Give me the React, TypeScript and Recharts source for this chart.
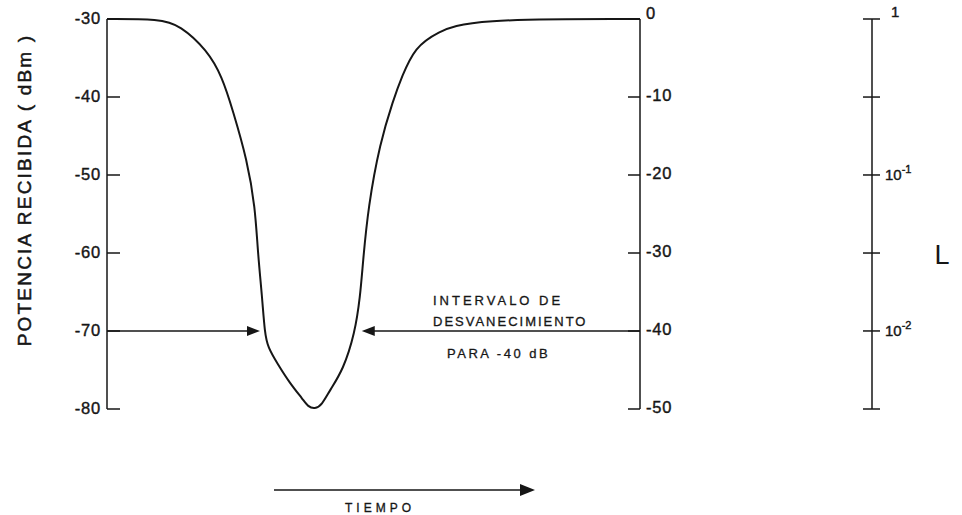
import React from 'react'
import { LineChart, Line, XAxis, YAxis, ReferenceLine } from 'recharts'

// curva de desvanecimiento, tiempo en unidades arbitrarias (0-100)
const tiempo = [0, 9.9, 13.7, 18.8, 21.6, 23.6, 26.3, 27.8, 28.3, 29.1, 29.6, 30.2, 31.9, 34.3, 36.8, 37.7, 39.0, 40.3, 41.8, 44.3, 46.5, 47.5, 48.0, 49.0, 51.2, 53.7, 55.3, 57.8, 61.9, 68.1, 100]
const potencia = [-30, -30, -30.8, -34.0, -37.4, -41.7, -48.1, -54.1, -60, -65.6, -70.3, -72.1, -74.1, -76.7, -78.8, -79.7, -80, -79.5, -77.6, -75.0, -70.3, -65.6, -61.3, -54.1, -45.9, -40.4, -37.4, -33.6, -31.7, -30, -30]

const leftTicks = [-30, -40, -50, -60, -70, -80]
const rightTicks = [0, -10, -20, -30, -40, -50]
const lTicks = [1, 0.316, 0.1, 0.0316, 0.01, 0.00316]
const lLabels: Record<string, [string, string]> = {
  '1': ['1', ''],
  '0.1': ['10', '-1'],
  '0.01': ['10', '-2']
}

// intervalo de desvanecimiento: flechas (tiempo inicio, tiempo fin, nivel)
const arrowLeft = { from: 0, to: 28.7, level: -70 }
const arrowRight = { from: 100, to: 47.8, level: -40 }

const rows = tiempo.map((t, i) => ({ t, p: potencia[i] }))

const INK = '#161616'
const FONT = '"Liberation Sans", Arial, Helvetica, sans-serif'

const LeftTick = ({ x, y, payload }: any) => (
  <g>
    <line x1={x} x2={x + 13} y1={y} y2={y} stroke={INK} strokeWidth={1.5} />
    <text x={x - 6} y={y} dy={5} textAnchor="end" fill={INK} stroke={INK} strokeWidth={0.4} fontSize={16.5} fontFamily={FONT} letterSpacing={0.8}>
      {payload.value}
    </text>
  </g>
)

const RightTick = ({ x, y, payload }: any) => (
  <g>
    <line x1={x - 12} x2={x} y1={y} y2={y} stroke={INK} strokeWidth={1.5} />
    <text x={x + 6} y={y} dy={payload.value === 0 ? 0 : 4} textAnchor="start" fill={INK} stroke={INK} strokeWidth={0.4} fontSize={16.5} fontFamily={FONT} letterSpacing={0.8}>
      {payload.value}
    </text>
  </g>
)

const LTick = ({ x, y, payload }: any) => {
  const lab = lLabels[String(payload.value)]
  return (
    <g>
      <line x1={x - 9} x2={x + 8} y1={y} y2={y} stroke={INK} strokeWidth={1.5} />
      {lab && lab[1] === '' && (
        <text x={x + 19} y={y - 2} textAnchor="start" fill={INK} stroke={INK} strokeWidth={0.4} fontSize={15} fontFamily={FONT}>{lab[0]}</text>
      )}
      {lab && lab[1] !== '' && (
        <text x={x + 13} y={y} dy={5} textAnchor="start" fill={INK} stroke={INK} strokeWidth={0.4} fontSize={15} fontFamily={FONT}>
          <tspan>{lab[0]}</tspan>
          <tspan dy={-7} fontSize={11}>{lab[1]}</tspan>
        </text>
      )}
    </g>
  )
}

const ArrowLine = (props: any) => {
  const { x1, y1, x2, y2 } = props
  const dir = x2 > x1 ? 1 : -1
  return (
    <g>
      <line x1={x1} y1={y1} x2={x2 - dir * 10} y2={y2} stroke={INK} strokeWidth={1.3} />
      <polygon points={`${x2},${y2} ${x2 - dir * 13},${y2 - 5} ${x2 - dir * 13},${y2 + 5}`} fill={INK} />
    </g>
  )
}

export default function App() {
  return (
    <div style={{ position: 'absolute', left: 0, top: 0, width: 962, height: 515, background: '#fff' }}>
      <LineChart width={962} height={515} data={rows} margin={{ top: 19, right: 0, bottom: 106, left: 0 }}>
        <XAxis type="number" dataKey="t" domain={[0, 100]} hide />
        <YAxis
          yAxisId="a_dbm"
          width={107}
          type="number"
          domain={[-80, -30]}
          ticks={leftTicks}
          interval={0}
          tickSize={0}
          tickMargin={0}
          tickLine={false}
          axisLine={{ stroke: INK, strokeWidth: 1.5 }}
          tick={<LeftTick />}
        />
        <YAxis
          yAxisId="b_db"
          orientation="right"
          width={232}
          type="number"
          domain={[-50, 0]}
          allowDataOverflow
          ticks={rightTicks}
          interval={0}
          tickSize={0}
          tickMargin={0}
          tickLine={false}
          axisLine={{ stroke: INK, strokeWidth: 1.5 }}
          tick={<RightTick />}
        />
        <YAxis
          yAxisId="c_ratio"
          orientation="right"
          width={90}
          type="number"
          scale="log"
          domain={[0.00316, 1]}
          allowDataOverflow
          ticks={lTicks}
          interval={0}
          tickSize={0}
          tickMargin={0}
          tickLine={false}
          axisLine={{ stroke: INK, strokeWidth: 1.5 }}
          tick={<LTick />}
        />
        <Line
          yAxisId="a_dbm"
          type="basis"
          dataKey="p"
          stroke={INK}
          strokeWidth={2}
          dot={false}
          isAnimationActive={false}
        />
        <ReferenceLine
          yAxisId="a_dbm"
          segment={[{ x: arrowLeft.from, y: arrowLeft.level }, { x: arrowLeft.to, y: arrowLeft.level }]}
          shape={(p: any) => <ArrowLine {...p} />}
        />
        <ReferenceLine
          yAxisId="b_db"
          segment={[{ x: arrowRight.from, y: arrowRight.level }, { x: arrowRight.to, y: arrowRight.level }]}
          shape={(p: any) => <ArrowLine {...p} />}
        />

        <text transform="translate(31,190) rotate(-90)" textAnchor="middle" fill={INK} stroke={INK} strokeWidth={0.5} fontSize={19} fontFamily={FONT} letterSpacing={2.2}>
          POTENCIA RECIBIDA ( dBm )
        </text>
        <g fill={INK} stroke={INK} strokeWidth={0.3} fontSize={13} fontFamily={FONT}>
          <text x={433} y={305} letterSpacing={3}>INTERVALO DE</text>
          <text x={433} y={326} letterSpacing={2}>DESVANECIMIENTO</text>
          <text x={447} y={358} letterSpacing={2.5}>PARA -40 dB</text>
        </g>
        <line x1={274} y1={490} x2={522} y2={490} stroke={INK} strokeWidth={1.3} />
        <polygon points="535,490 520,484 520,496" fill={INK} />
        <text x={380} y={512} textAnchor="middle" fill={INK} stroke={INK} strokeWidth={0.3} fontSize={12} fontFamily={FONT} letterSpacing={4}>TIEMPO</text>
        <text x={942} y={264} textAnchor="middle" fill={INK} fontSize={27} fontFamily={FONT} fontWeight={300}>L</text>
      </LineChart>
    </div>
  )
}
